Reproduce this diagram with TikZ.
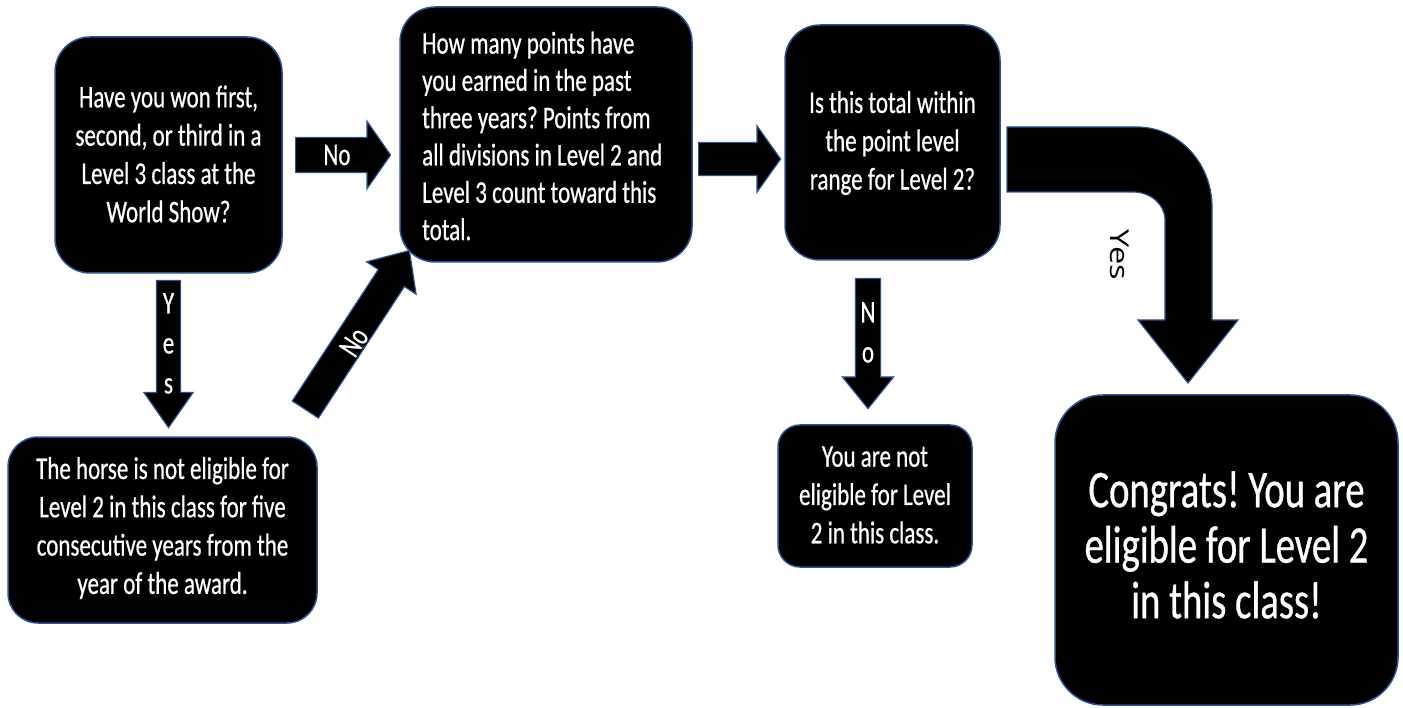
\documentclass[tikz,border=0pt]{standalone}
\usepackage{fontspec}
\setmainfont[FakeStretch=0.73, FakeBold=0.6]{Carlito}
\newfontfamily\yesfont[FakeStretch=1.25]{Open Sans}
\usetikzlibrary{shapes.arrows}
\definecolor{bcol}{RGB}{47,82,143}
\frenchspacing
\begin{document}
\begin{tikzpicture}[x=1pt,y=-1pt,
  box/.style={draw=bcol, line width=1.5pt, fill=black, rounded corners=#1, inner sep=0pt},
  box/.default=35pt,
  txt/.style={text=white, align=center, inner sep=0pt, font=\fontsize{31.5}{38.3}\selectfont},
  barrow/.style={single arrow, draw=bcol, line width=1.2pt, fill=black, inner xsep=0pt, minimum width=0pt, anchor=tail},
]
\useasboundingbox (0,0) rectangle (1403,708);

% block arrows
\node[barrow, minimum height=95, inner ysep=17, single arrow head extend=16, single arrow tip angle=110] (a1) at (295,155) {};
\node[barrow, rotate=56.8, minimum height=190, inner ysep=15, single arrow head extend=14, single arrow tip angle=84] (a2) at (305,410) {};
\node[barrow, minimum height=82, inner ysep=16, single arrow head extend=16.5, single arrow tip angle=109] (a3) at (698,159) {};
\node[barrow, rotate=-90, minimum height=147, inner ysep=11.5, single arrow head extend=12.5, single arrow tip angle=70] (a4) at (168.5,280) {};
\node[barrow, rotate=-90, minimum height=130, inner ysep=12, single arrow head extend=13, single arrow tip angle=78] (a5) at (868,278) {};

% curved arrow
\draw[draw=bcol, line width=1.2pt, fill=black] (1007,127) -- (1137,127)
  .. controls (1178.4,127) and (1212,162.8) .. (1212,207) -- (1212,320) -- (1238,320)
  -- (1188,383) -- (1138,320) -- (1165,320) -- (1165,220)
  .. controls (1165,204.5) and (1150.7,192) .. (1133,192) -- (1007,192) -- cycle;

% boxes
\node[box, minimum width=227, minimum height=236] (b1) at (168.5,155) {};
\node[box, minimum width=292, minimum height=255] (b2) at (546,134.5) {};
\node[box, minimum width=215, minimum height=235] (b3) at (892.5,142.5) {};
\node[box=30pt, minimum width=309, minimum height=186] (b4) at (162.5,530) {};
\node[box=22pt, minimum width=194, minimum height=142] (b5) at (875,496) {};
\node[box=48pt, minimum width=343, minimum height=310] (b6) at (1226.5,550) {};

% box texts
\node[txt] (t1) at ([yshift=1pt]b1.center) {Have you won first,\\second, or third in a\\Level 3 class at the\\World Show?};
\node[txt, align=left, anchor=west, font=\fontsize{31.5}{37.3}\selectfont] (t2) at (422,136) {How many points have\\you earned in the past\\three years? Points from\\all divisions in Level 2 and\\Level 3 count toward this\\total.};
\node[txt] (t3) at (892.5,143) {Is this total within\\the point level\\range for Level 2?};
\node[txt] (t4) at (162.5,528) {The horse is not eligible for\\Level 2 in this class for five\\consecutive years from the\\year of the award.};
\node[txt] (t5) at (875,495) {You are not\\eligible for Level\\2 in this class.};
\node[txt, font=\fontsize{53}{55.5}\selectfont] (t6) at (1226.5,545) {Congrats! You are\\eligible for Level 2\\in this class!};

% arrow labels
\node[txt] (l1) at (337,155) {No};
\node[txt, rotate=56.8] (l2) at (354,342) {No};
\node[txt, anchor=north, font=\fontsize{31.5}{40}\selectfont] (l3) at (168.5,293) {Y\\e\\s};
\node[txt, anchor=north, font=\fontsize{31.5}{40}\selectfont] (l4) at (868,302) {N\\o};
\node[rotate=-90, inner sep=0pt, font=\yesfont\fontsize{26}{30}\selectfont] (l5) at (1120,255) {Yes};
\end{tikzpicture}
\end{document}
